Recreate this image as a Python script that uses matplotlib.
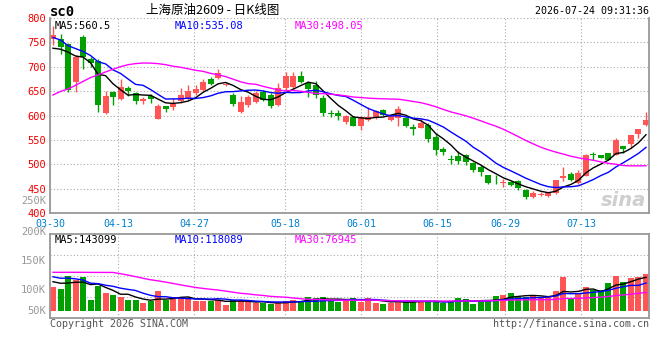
import numpy as np
import pandas as pd
import matplotlib
matplotlib.use('Agg')
import matplotlib.pyplot as plt

plt.rcParams['font.family'] = ['DejaVu Sans Mono', 'Noto Sans CJK SC']

# daily bars 03-30 .. 07-24 (80 sessions)
opens = [756, 756, 747, 668, 761, 715, 712, 605, 649, 634,
         657, 647, 629, 639, 593, 619, 618, 630, 636, 647,
         652, 675, 677, 662, 642, 608, 621, 628, 648, 642,
         622, 657, 658, 681, 667, 663, 636, 606, 606, 586,
         597, 578, 591, 595, 612, 591, 594, 594, 577, 575,
         580, 556, 532, 511, 517, 520, 503, 495, 478, 466,
         461, 464, 465, 448, 433, 436, 434, 441, 472, 480,
         461, 476, 520, 520, 523, 520, 538, 542, 562, 581]
highs = [783, 767, 749, 724, 766, 721, 716, 650, 650, 675,
         660, 649, 637, 644, 624, 620, 635, 656, 662, 662,
         674, 678, 695, 666, 647, 641, 642, 650, 652, 647,
         666, 690, 690, 692, 670, 670, 642, 612, 612, 601,
         600, 600, 618, 612, 614, 601, 619, 596, 582, 595,
         584, 563, 536, 519, 527, 522, 505, 499, 478, 477,
         469, 466, 467, 450, 445, 443, 443, 468, 494, 485,
         488, 522, 526, 520, 524, 554, 538, 561, 573, 608]
lows = [745, 726, 648, 649, 695, 700, 608, 604, 622, 632,
        641, 623, 624, 626, 592, 607, 612, 625, 632, 643,
        650, 662, 675, 660, 619, 605, 617, 626, 629, 615,
        619, 652, 652, 667, 637, 636, 599, 597, 591, 583,
        578, 571, 588, 592, 600, 589, 578, 576, 560, 574,
        546, 519, 520, 501, 501, 498, 485, 476, 460, 460,
        453, 455, 448, 429, 431, 434, 432, 440, 465, 466,
        459, 475, 509, 512, 508, 519, 523, 533, 553, 579]
closes = [765, 740, 653, 721, 720, 707, 621, 640, 637, 659,
          651, 629, 634, 634, 620, 613, 623, 642, 650, 654,
          669, 664, 688, 664, 623, 627, 637, 646, 632, 620,
          656, 681, 681, 669, 654, 642, 606, 604, 598, 599,
          579, 596, 597, 610, 602, 599, 614, 578, 572, 584,
          551, 529, 525, 509, 506, 505, 488, 484, 461, 465,
          463, 458, 451, 432, 442, 440, 443, 467, 475, 468,
          482, 520, 519, 513, 509, 549, 531, 560, 572, 591]
volume = [104, 96, 155, 137, 149, 48, 110, 78, 70, 63,
          48, 48, 33, 43, 88, 48, 60, 60, 52, 45,
          45, 45, 50, 25, 48, 48, 40, 33, 33, 28,
          40, 45, 50, 40, 60, 55, 60, 45, 40, 50,
          57, 40, 57, 35, 30, 35, 48, 40, 42, 40,
          42, 45, 35, 42, 57, 52, 30, 45, 45, 65,
          70, 78, 62, 62, 70, 60, 60, 90, 152, 58,
          73, 107, 95, 93, 125, 155, 130, 148, 151, 164]
volume = [v * 955 for v in volume]

# sessions before 03-30, only used to start the moving averages
prior_close = [520, 505, 495, 480, 470, 455, 460, 470, 500, 530,
               560, 600, 638, 654, 677, 717, 706, 744, 748, 733,
               790, 770, 781, 780, 789, 750, 683, 761, 731]
prior_vol = [100, 150, 140, 150, 60, 110, 80, 75, 230, 240,
             250, 260, 240, 230, 220, 240, 250, 230, 220, 170,
             160, 150, 170, 200, 190, 130, 150, 120, 145]
prior_vol = [v * 955 for v in prior_vol]

tick_idx = [0, 9, 19, 31, 41, 51, 60, 70]
tick_lab = ['03-30', '04-13', '04-27', '05-18', '06-01', '06-15', '06-29', '07-13']
price_ticks = [400, 450, 500, 550, 600, 650, 700, 750, 800]
vol_lab = ['250K', '200K', '150K', '100K', '50K']
vol_lab_y = [201, 232, 261, 290, 311]   # where sina prints them (px)

RED, GREEN = '#ff5555', '#00a000'
GRID = '#aaaaaa'
FRAME = '#999999'

n = len(closes)
x = np.arange(n)
o, h, l, c = map(np.array, (opens, highs, lows, closes))
cols = np.where(c >= o, RED, GREEN)

cs = pd.Series(prior_close + closes)
vs = pd.Series(prior_vol + volume)
ma = {k: cs.rolling(k).mean().iloc[-n:].to_numpy() for k in (5, 10, 30)}
vma = {k: vs.rolling(k).mean().iloc[-n:].to_numpy() for k in (5, 10, 30)}
ma_cols = {5: 'black', 10: '#0000ff', 30: '#ff00ff'}

W, H = 660, 360
fig = plt.figure(figsize=(6.6, 3.6), dpi=100)
ax = fig.add_axes([50 / W, 1 - 213 / H, 599 / W, 195 / H])
axv = fig.add_axes([50 / W, 1 - 318 / H, 599 / W, 84 / H])

tick_pos = np.array(tick_idx) * 1.011 - 0.4

# ---- price panel
ax.vlines(x, l, h, color=cols, lw=1, zorder=2)
ax.bar(x, np.maximum(np.abs(c - o), 1.3), bottom=np.minimum(o, c), width=0.8,
       color=cols, linewidth=0, zorder=2)
for k in (5, 10, 30):
    ax.plot(x, ma[k], color=ma_cols[k], lw=1, zorder=3)
ax.set_xlim(-0.4, 79.4)
ax.set_ylim(400, 800)
ax.set_yticks(price_ticks)
ax.set_xticks(tick_pos)
ax.set_xticklabels(tick_lab)
ax.grid(True, color=GRID, linestyle=(0, (1, 2)), linewidth=0.8)
ax.set_axisbelow(True)
ax.tick_params(length=0)
ax.tick_params(axis='y', colors='#ee0000', pad=3, labelsize=7.5)
ax.tick_params(axis='x', colors='#0080d0', pad=4, labelsize=7.2)
ax.spines['top'].set_visible(False)
for s in ('left', 'right', 'bottom'):
    ax.spines[s].set_color(FRAME)
    ax.spines[s].set_linewidth(1.3)
ax.text(0.008, 0.985, 'MA5:560.5', transform=ax.transAxes, color='black', fontsize=7.5, va='top')
ax.text(0.208, 0.985, 'MA10:535.08', transform=ax.transAxes, color='#0000ff', fontsize=7.5, va='top')
ax.text(0.408, 0.985, 'MA30:498.05', transform=ax.transAxes, color='#ff00ff', fontsize=7.5, va='top')
ax.text(0.995, 0.015, 'sina', transform=ax.transAxes, ha='right', va='bottom', fontsize=14,
        fontweight='bold', style='italic', color='#cfcfcf', family='DejaVu Sans', zorder=1)

# ---- volume panel
axv.bar(x, volume, width=0.8, color=cols, linewidth=0, zorder=2)
for k in (5, 10, 30):
    axv.plot(x, vma[k], color=ma_cols[k], lw=1, zorder=3)
scale = 4280
lo, hi = -7.3 * scale, 76.7 * scale
axv.set_xlim(-0.4, 79.4)
axv.set_ylim(lo, hi)
axv.set_xticks(tick_pos)
axv.set_yticks([])
axv.tick_params(length=0, labelbottom=False)
axv.grid(True, axis='x', color=GRID, linestyle=(0, (1, 2)), linewidth=0.8)
for f in (0.25, 0.5, 0.75):
    axv.axhline(lo + (hi - lo) * f, color=GRID, linestyle=(0, (1, 2)), linewidth=0.8, zorder=1)
axv.set_axisbelow(True)
for s in axv.spines.values():
    s.set_color(FRAME)
    s.set_linewidth(1.3)
for lab, yy in zip(vol_lab, vol_lab_y):
    fig.text(46 / W, 1 - yy / H, lab, ha='right', va='center', fontsize=7.5, color='#999999')
axv.text(0.008, 0.985, 'MA5:143099', transform=axv.transAxes, color='black', fontsize=7.5, va='top')
axv.text(0.208, 0.985, 'MA10:118089', transform=axv.transAxes, color='#0000ff', fontsize=7.5, va='top')
axv.text(0.408, 0.985, 'MA30:76945', transform=axv.transAxes, color='#ff00ff', fontsize=7.5, va='top')

# ---- header / footer
fig.text(50 / W, 1 - 12 / H, 'sc0', fontsize=10, fontweight='bold', va='center', ha='left')
fig.text(213 / W, 1 - 10 / H, '上海原油2609 - 日K线图', fontsize=9, va='center', ha='center',
         family=['Noto Sans CJK SC', 'DejaVu Sans'])
fig.text(649 / W, 1 - 11 / H, '2026-07-24 09:31:36', fontsize=7.2, va='center', ha='right')
fig.text(50 / W, 1 - 324 / H, 'Copyright 2026 SINA.COM', fontsize=7.2, va='center', ha='left', color='#555555')
fig.text(649 / W, 1 - 324 / H, 'http://finance.sina.com.cn', fontsize=7.2, va='center', ha='right', color='#555555')

fig.savefig('out.png', dpi=100)
